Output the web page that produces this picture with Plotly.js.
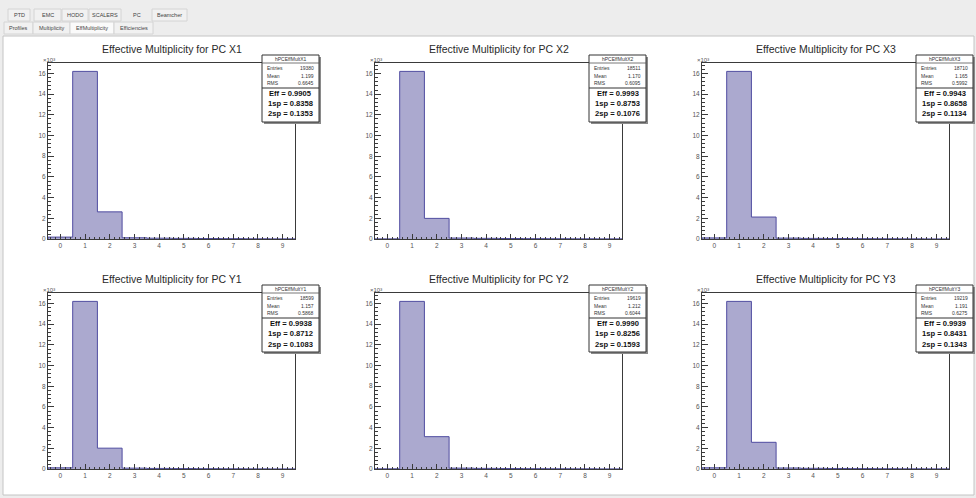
<!DOCTYPE html>
<html>
<head>
<meta charset="utf-8">
<script src="https://cdn.plot.ly/plotly-3.0.1.min.js"></script>
<style>
  html, body { margin: 0; padding: 0; background: #ededed; }
  #plot { width: 976px; height: 498px; }
</style>
</head>
<body>
<div id="plot"></div>
<script>
// ---- data -------------------------------------------------------------
const binCenters = [0, 1, 2, 3, 4, 5, 6, 7, 8, 9];
const xTickLabels = ['0', '1', '2', '3', '4', '5', '6', '7', '8', '9'];
const yTickLabels = [0, 2, 4, 6, 8, 10, 12, 14, 16];   // in units of 10^3
const planes = ['X1', 'X2', 'X3', 'Y1', 'Y2', 'Y3'];
const histNames = ['hPCEffMultX1', 'hPCEffMultX2', 'hPCEffMultX3',
                   'hPCEffMultY1', 'hPCEffMultY2', 'hPCEffMultY3'];
const entries   = [19380, 18510, 18710, 18600, 19620, 19220];
const effValues = [0.9905, 0.9993, 0.9943, 0.9938, 0.9990, 0.9939];
const oneSpFrac = [0.8358, 0.8753, 0.8658, 0.8712, 0.8256, 0.8431];
const twoSpFrac = [0.1353, 0.1076, 0.1134, 0.1083, 0.1593, 0.1343];
// counts for multiplicities 3..9
const tailX1 = [120, 80, 60, 45, 35, 22, 14];
const tailX2 = [95, 65, 48, 36, 28, 19, 13];
const tailX3 = [88, 60, 45, 34, 26, 17, 12];
const tailY1 = [83, 57, 42, 32, 24, 16, 12];
const tailY2 = [86, 59, 44, 33, 25, 17, 12];
const tailY3 = [100, 68, 50, 38, 29, 19, 13];
const tails = [tailX1, tailX2, tailX3, tailY1, tailY2, tailY3];

const topTabs = ['PTD', 'EMC', 'HODO', 'SCALERS', 'PC', 'Beamcher'];
const subTabs = ['Profiles', 'Multiplicity', 'EffMultiplicity', 'Efficiencies'];

// ---- geometry (pixels) ------------------------------------------------
const W = 976, H = 498;
const px = x => x / W;
const py = y => 1 - y / H;
const topTabBoxes = [[8, 30], [34, 61], [62, 88], [89, 121], [124, 149], [152, 187]];
const subTabBoxes = [[4, 33], [33, 70], [70, 114], [114, 153]];

const FONT = 'Liberation Sans, Arial, Helvetica, sans-serif';
const FILL = '#aba9cf';
const EDGE = '#4f4ca0';
const INK = '#333333';

const traces = [];
const shapes = [];
const annotations = [];
const layout = {
  width: W, height: H,
  margin: { l: 0, r: 0, t: 0, b: 0 },
  paper_bgcolor: '#ededed',
  plot_bgcolor: '#ffffff',
  showlegend: false,
  font: { family: FONT, color: INK }
};

// toolbar and canvas background
shapes.push({ type: 'rect', xref: 'paper', yref: 'paper', layer: 'below',
  x0: px(3), x1: px(974), y0: py(36), y1: py(495),
  fillcolor: '#ffffff', line: { color: '#c4c4c4', width: 1 } });
topTabs.forEach((t, i) => {
  const [a, b] = topTabBoxes[i];
  if (t !== 'PC') {
    shapes.push({ type: 'rect', xref: 'paper', yref: 'paper', layer: 'below',
      x0: px(a), x1: px(b), y0: py(9), y1: py(21),
      fillcolor: '#f1f1f1', line: { color: '#d4d4d4', width: 1 } });
  }
  annotations.push({ xref: 'paper', yref: 'paper', x: px((a + b) / 2), y: py(15),
    text: t, showarrow: false, xanchor: 'center', yanchor: 'middle',
    font: { size: 5.5, color: '#444', family: FONT } });
});
subTabs.forEach((t, i) => {
  const [a, b] = subTabBoxes[i];
  shapes.push({ type: 'rect', xref: 'paper', yref: 'paper', layer: 'below',
    x0: px(a), x1: px(b), y0: py(22), y1: py(34),
    fillcolor: t === 'EffMultiplicity' ? '#fafafa' : '#f1f1f1',
    line: { color: '#d4d4d4', width: 1 } });
  annotations.push({ xref: 'paper', yref: 'paper', x: px((a + b) / 2), y: py(28),
    text: t, showarrow: false, xanchor: 'center', yanchor: 'middle',
    font: { size: 5.5, color: '#444', family: FONT } });
});

// ---- the six histograms ----------------------------------------------
planes.forEach((plane, i) => {
  const col = i % 3, row = Math.floor(i / 3);
  const L = 48 + 327 * col, R = 295 + 327 * col;
  const T = 63 + 230 * row, B = 239 + 230 * row;
  const N = entries[i];

  const counts = [Math.round(N * (1 - effValues[i])),
                  Math.round(N * oneSpFrac[i]),
                  Math.round(N * twoSpFrac[i])].concat(tails[i]);
  const total = counts.reduce((s, c) => s + c, 0);
  const mean = counts.reduce((s, c, k) => s + c * binCenters[k], 0) / total;
  const rms = Math.sqrt(counts.reduce((s, c, k) =>
    s + c * (binCenters[k] - mean) ** 2, 0) / total);
  const ymax = 1.05 * Math.max(...counts);

  // step outline: left edges of each bin, closed at both ends
  const edges = binCenters.map(c => c - 0.5);
  const last = binCenters[binCenters.length - 1] + 0.5;
  const sx = [edges[0]].concat(edges, [last, last]);
  const sy = [0].concat(counts, [counts[counts.length - 1], 0]);

  const xa = i === 0 ? 'x' : 'x' + (i + 1);
  const ya = i === 0 ? 'y' : 'y' + (i + 1);
  traces.push({
    type: 'scatter', mode: 'lines', x: sx, y: sy, xaxis: xa, yaxis: ya,
    line: { shape: 'hv', color: EDGE, width: 1 },
    fill: 'tozeroy', fillcolor: FILL, hoverinfo: 'skip'
  });

  const axisBase = {
    showline: true, mirror: true, linecolor: '#3a3a3a', linewidth: 1,
    showgrid: false, zeroline: false, ticks: 'inside', tickcolor: '#3a3a3a',
    tickfont: { size: 6.5, color: '#555555', family: FONT }
  };
  layout[i === 0 ? 'xaxis' : 'xaxis' + (i + 1)] = Object.assign({}, axisBase, {
    domain: [px(L), px(R)], anchor: ya, range: [-0.5, 9.5], fixedrange: true,
    tickmode: 'array', tickvals: binCenters, ticktext: xTickLabels, ticklen: 5,
    minor: { ticks: 'inside', ticklen: 2.5, dtick: 0.2, tick0: 0,
             tickcolor: '#3a3a3a', showgrid: false }
  });
  layout[i === 0 ? 'yaxis' : 'yaxis' + (i + 1)] = Object.assign({}, axisBase, {
    domain: [py(B), py(T)], anchor: xa, range: [0, ymax], fixedrange: true,
    tickmode: 'array', tickvals: yTickLabels.map(v => v * 1000),
    ticktext: yTickLabels.map(String), ticklen: 6,
    minor: { ticks: 'inside', ticklen: 3, dtick: 400, tick0: 0,
             tickcolor: '#3a3a3a', showgrid: false }
  });

  // title
  annotations.push({ xref: 'paper', yref: 'paper', x: px((L + R) / 2), y: py(T - 14),
    text: 'Effective Multiplicity for PC ' + plane, showarrow: false,
    xanchor: 'center', yanchor: 'middle',
    font: { size: 10.5, color: '#2a2a2a', family: FONT } });
  // exponent label of the y axis
  annotations.push({ xref: 'paper', yref: 'paper', x: px(L - 7), y: py(T - 3),
    text: '\u00d710\u00b3', showarrow: false, xanchor: 'left', yanchor: 'middle',
    font: { size: 6, color: '#555', family: FONT } });

  // statistics box
  const bx0 = R - 33, bx1 = R + 24, by0 = T - 8, by1 = T + 59;
  shapes.push({ type: 'rect', xref: 'paper', yref: 'paper',
    x0: px(bx0 + 2), x1: px(bx1 + 2), y0: py(by0 + 2), y1: py(by1 + 2),
    fillcolor: '#8a8a8a', line: { width: 0 } });
  shapes.push({ type: 'rect', xref: 'paper', yref: 'paper',
    x0: px(bx0), x1: px(bx1), y0: py(by0), y1: py(by1),
    fillcolor: '#ffffff', line: { color: '#333', width: 1 } });
  shapes.push({ type: 'line', xref: 'paper', yref: 'paper',
    x0: px(bx0), x1: px(bx1), y0: py(T), y1: py(T), line: { color: '#555', width: 0.8 } });
  shapes.push({ type: 'line', xref: 'paper', yref: 'paper',
    x0: px(bx0), x1: px(bx1), y0: py(T + 25), y1: py(T + 25), line: { color: '#333', width: 1 } });

  const small = { size: 5, color: '#333', family: FONT };
  annotations.push({ xref: 'paper', yref: 'paper', x: px((bx0 + bx1) / 2), y: py(T - 4),
    text: histNames[i], showarrow: false, xanchor: 'center', yanchor: 'middle', font: small });
  const rows = [['Entries', String(total), T + 5],
                ['Mean', mean.toPrecision(4), T + 12.5],
                ['RMS', rms.toPrecision(4), T + 19.5]];
  rows.forEach(([k, v, y]) => {
    annotations.push({ xref: 'paper', yref: 'paper', x: px(bx0 + 3), y: py(y),
      text: k, showarrow: false, xanchor: 'left', yanchor: 'middle', font: small });
    annotations.push({ xref: 'paper', yref: 'paper', x: px(bx1 - 3), y: py(y),
      text: v, showarrow: false, xanchor: 'right', yanchor: 'middle', font: small });
  });
  const big = { size: 7.6, color: '#111', family: FONT };
  [['Eff = ' + effValues[i].toFixed(4), T + 30.5],
   ['1sp = ' + oneSpFrac[i].toFixed(4), T + 40.5],
   ['2sp = ' + twoSpFrac[i].toFixed(4), T + 51]].forEach(([t, y]) => {
    annotations.push({ xref: 'paper', yref: 'paper', x: px((bx0 + bx1) / 2), y: py(y),
      text: '<b>' + t + '</b>', showarrow: false, xanchor: 'center', yanchor: 'middle', font: big });
  });
});

layout.shapes = shapes;
layout.annotations = annotations;
Plotly.newPlot('plot', traces, layout, { staticPlot: true, displayModeBar: false });
</script>
</body>
</html>
